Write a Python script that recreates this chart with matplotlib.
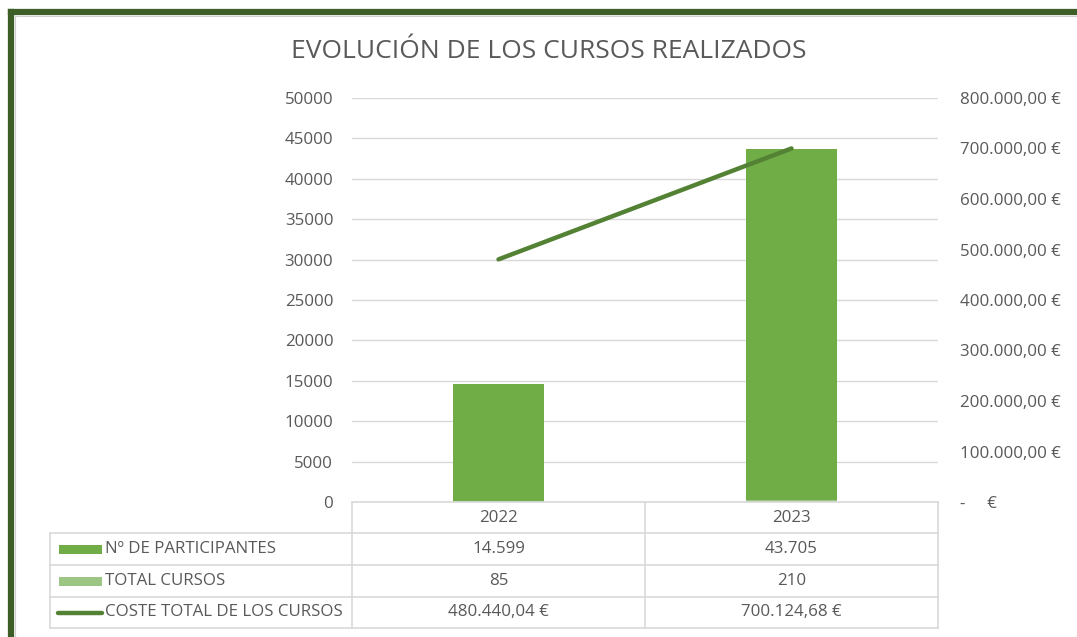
import matplotlib
matplotlib.use("Agg")
import matplotlib.pyplot as plt
from matplotlib.lines import Line2D
from matplotlib.patches import Rectangle

plt.rcParams['font.family'] = ['Open Sans', 'DejaVu Sans']

years = ["2022", "2023"]
participantes = [14599, 43705]
total_cursos = [85, 210]
coste_total = [480440.04, 700124.68]
series_names = ["Nº DE PARTICIPANTES", "TOTAL CURSOS", "COSTE TOTAL DE LOS CURSOS"]
title = "EVOLUCIÓN DE LOS CURSOS REALIZADOS"
left_ticks = [0, 5000, 10000, 15000, 20000, 25000, 30000, 35000, 40000, 45000, 50000]
right_ticks = [0, 100000, 200000, 300000, 400000, 500000, 600000, 700000, 800000]

W, H = 1077, 637
fig = plt.figure(figsize=(W / 100, H / 100), dpi=100)

TXT = "#595959"
GRID = "#D9D9D9"
C_BAR = "#70AD47"
C_BAR2 = "#9DC684"
C_LINE = "#548235"
C_FRAME = "#3D5F27"


def fx(px):
    return px / W


def fy(py):
    return 1 - py / H


def fmt_int(v):
    return f"{v:,}".replace(",", ".")


def fmt_eur(v, dec=2):
    if v == 0:
        return "-     €"
    s = f"{v:,.2f}"
    s = s.replace(",", "X").replace(".", ",").replace("X", ".")
    return s + " €"


FS = 12.2

x0, x1, ytop, ybot = 352, 938, 98, 502
ax = fig.add_axes([fx(x0), fy(ybot), fx(x1) - fx(x0), fy(ytop) - fy(ybot)])
ax2 = ax.twinx()

xs = list(range(len(years)))
ax.bar(xs, participantes, width=0.31, color=C_BAR, zorder=3)
ax.bar(xs, total_cursos, width=0.31, color=C_BAR2, zorder=3)
ax2.plot(xs, coste_total, color=C_LINE, lw=3.2, solid_capstyle='round', zorder=4)

ax.set_xlim(-0.5, len(years) - 0.5)
ax.set_ylim(0, 50000)
ax2.set_ylim(0, 800000)
ax.set_yticks(left_ticks)
ax.set_yticklabels([str(t) for t in left_ticks])
ax2.set_yticks(right_ticks)
ax2.set_yticklabels([fmt_eur(t) for t in right_ticks], ha='left')
ax.set_xticks([])
ax.grid(axis='y', color=GRID, lw=1, zorder=0)
ax.set_axisbelow(True)
for a in (ax, ax2):
    for s in a.spines.values():
        s.set_visible(False)
    a.tick_params(length=0, colors=TXT, labelsize=FS)
ax.tick_params(axis='y', pad=13.5)
ax2.tick_params(axis='y', pad=16)
ax2.set_zorder(ax.get_zorder() + 1)

fig.text(fx(549), fy(52), title, ha='center', va='center', fontsize=19, color=TXT)

# Data table
rows_y = [502, 533, 565, 597, 628]
col_x = [50, 352, 645, 938]
lw = 1.2


def hline(y, xa, xb):
    fig.add_artist(Line2D([fx(xa), fx(xb)], [fy(y), fy(y)], color=GRID, lw=lw))


def vline(x, ya, yb):
    fig.add_artist(Line2D([fx(x), fx(x)], [fy(ya), fy(yb)], color=GRID, lw=lw))


hline(rows_y[0], col_x[1], col_x[3])
for y in rows_y[1:]:
    hline(y, col_x[0], col_x[3])
vline(col_x[0], rows_y[1], rows_y[4])
for x in col_x[1:]:
    vline(x, rows_y[0], rows_y[4])

for i, yr in enumerate(years):
    cx = (col_x[i + 1] + col_x[i + 2]) / 2
    fig.text(fx(cx), fy((rows_y[0] + rows_y[1]) / 2), yr, ha='center', va='center', fontsize=FS, color=TXT)
    fig.text(fx(cx), fy((rows_y[1] + rows_y[2]) / 2), fmt_int(participantes[i]), ha='center', va='center', fontsize=FS, color=TXT)
    fig.text(fx(cx), fy((rows_y[2] + rows_y[3]) / 2), fmt_int(total_cursos[i]), ha='center', va='center', fontsize=FS, color=TXT)
    fig.text(fx(cx), fy((rows_y[3] + rows_y[4]) / 2), fmt_eur(coste_total[i]), ha='center', va='center', fontsize=FS, color=TXT)

# legend keys
for r, (name, kind, col) in enumerate(zip(series_names, ["bar", "bar", "line"], [C_BAR, C_BAR2, C_LINE])):
    yc = (rows_y[r + 1] + rows_y[r + 2]) / 2
    if kind == "bar":
        fig.add_artist(Rectangle((fx(59), fy(yc + 4.5)), fx(102) - fx(59), fy(yc - 4.5) - fy(yc + 4.5),
                                 facecolor=col, edgecolor='none'))
    else:
        fig.add_artist(Line2D([fx(58), fx(102)], [fy(yc), fy(yc)], color=col, lw=3.2, solid_capstyle='round'))
    fig.text(fx(105), fy(yc), name, ha='left', va='center', fontsize=FS, color=TXT)

# outer frame (left and top edges visible)
fig.add_artist(Line2D([fx(11), fx(11)], [fy(12), fy(H + 5)], color=C_FRAME, lw=4.5))
fig.add_artist(Line2D([fx(11), fx(W + 5)], [fy(12), fy(12)], color=C_FRAME, lw=4.5))
fig.add_artist(Line2D([fx(14.5), fx(14.5)], [fy(15.5), fy(H + 5)], color="#D0D0D0", lw=0.8))
fig.add_artist(Line2D([fx(14.5), fx(W + 5)], [fy(15.5), fy(15.5)], color="#D0D0D0", lw=0.8))

fig.savefig("out.png", dpi=100)
